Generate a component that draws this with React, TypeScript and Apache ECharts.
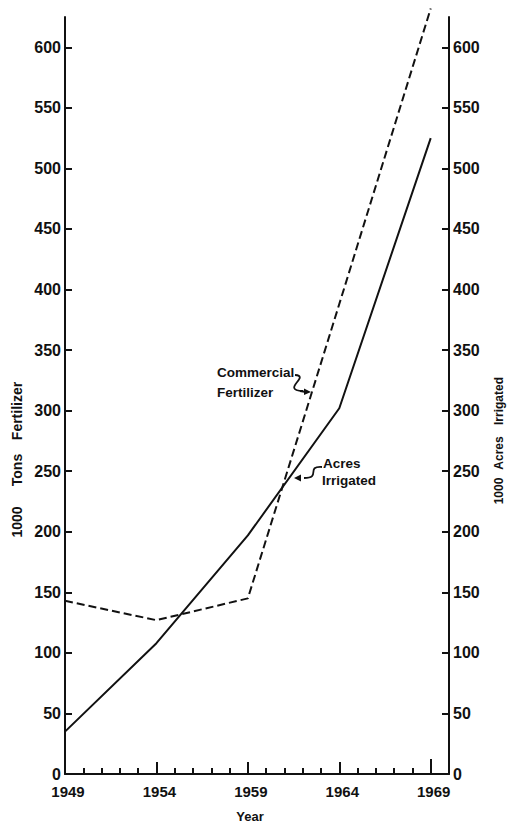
import React, { useEffect, useRef } from "react";
import * as echarts from "echarts";

const years = [1949, 1954, 1959, 1964, 1969];
const acresIrrigated = [35, 108, 197, 302, 525];
const commercialFertilizer = [143, 127, 145, 388, 632];
const yTickValues = [0, 50, 100, 150, 200, 250, 300, 350, 400, 450, 500, 550, 600];
const xMajorTicks = [1949, 1954, 1959, 1964];
const xLastTick = [1969];
const xLabels = [1949, 1954, 1959, 1964, 1969];

const INK = "#111";
const FONT = "'Liberation Sans', Arial, sans-serif";

export default function App() {
  const ref = useRef<HTMLDivElement>(null);
  useEffect(() => {
    if (!ref.current) return;
    const chart = echarts.init(ref.current, null, { renderer: "svg" });
    const yAxisBase = (pos: "left" | "right") => ({
      type: "value",
      position: pos,
      min: 0,
      max: 625,
      interval: 50,
      axisLine: { show: true, lineStyle: { color: INK, width: 2 } },
      axisTick: {
        show: true,
        inside: true,
        length: 7,
        customValues: yTickValues,
        lineStyle: { color: INK, width: 2 },
      },
      axisLabel: {
        show: true,
        customValues: yTickValues,
        color: INK,
        fontFamily: FONT,
        fontWeight: "bold",
        fontSize: 16,
        margin: 4,
      },
      splitLine: { show: false },
    });
    const textStyle = (text: string, size = 14) => ({
      text,
      fill: INK,
      font: `bold ${size}px ${FONT}`,
      textAlign: "center",
      textVerticalAlign: "middle",
    });
    const hiddenX = (ticks: number[] | null, interval: number, length: number) => ({
      type: "value",
      min: 1949,
      max: 1970,
      interval,
      position: "bottom",
      axisLine: { show: false },
      axisTick: {
        show: true,
        inside: true,
        length,
        ...(ticks ? { customValues: ticks } : {}),
        lineStyle: { color: INK, width: 2 },
      },
      axisLabel: { show: false },
      splitLine: { show: false },
    });
    chart.setOption({
      animation: false,
      backgroundColor: "#fff",
      grid: { left: 65, right: 58, top: 17, bottom: 50, containLabel: false },
      xAxis: [
        {
          type: "value",
          min: 1949,
          max: 1970,
          interval: 5,
          position: "bottom",
          axisLine: { show: true, onZero: false, lineStyle: { color: INK, width: 2 } },
          axisTick: {
            show: true,
            inside: true,
            length: 12,
            customValues: xMajorTicks,
            lineStyle: { color: INK, width: 2 },
          },
          axisLabel: {
            show: true,
            customValues: xLabels,
            color: INK,
            fontFamily: FONT,
            fontWeight: "bold",
            fontSize: 15,
            margin: 10,
            padding: [0, 0, 0, 6],
            formatter: (v: number) => String(v),
          },
          splitLine: { show: false },
        },
        hiddenX(null, 1, 6),
        hiddenX(xLastTick, 5, 15),
      ],
      yAxis: [yAxisBase("left"), yAxisBase("right")],
      series: [
        {
          name: "Acres Irrigated",
          type: "line",
          xAxisIndex: 0,
          yAxisIndex: 1,
          data: years.map((y, i) => [y, acresIrrigated[i]]),
          showSymbol: false,
          symbol: "none",
          lineStyle: { color: INK, width: 2 },
          clip: false,
        },
        {
          name: "Commercial Fertilizer",
          type: "line",
          xAxisIndex: 0,
          yAxisIndex: 0,
          data: years.map((y, i) => [y, commercialFertilizer[i]]),
          showSymbol: false,
          symbol: "none",
          lineStyle: { color: INK, width: 2, type: [8, 4] },
          clip: false,
        },
      ],
      graphic: [
        // left axis title
        { type: "text", x: 17, y: 522, rotation: Math.PI / 2, style: textStyle("1000") },
        { type: "text", x: 17, y: 470, rotation: Math.PI / 2, style: textStyle("Tons") },
        { type: "text", x: 17, y: 411, rotation: Math.PI / 2, style: textStyle("Fertilizer") },
        // right axis title
        { type: "text", x: 499, y: 491, rotation: Math.PI / 2, style: textStyle("1000", 12) },
        { type: "text", x: 499, y: 453, rotation: Math.PI / 2, style: textStyle("Acres", 12) },
        { type: "text", x: 499, y: 401, rotation: Math.PI / 2, style: textStyle("Irrigated", 12) },
        // x axis title
        { type: "text", x: 250, y: 816, style: textStyle("Year", 13) },
        // annotation: Commercial Fertilizer
        {
          type: "text",
          x: 217,
          y: 372,
          style: { ...textStyle("Commercial", 13.5), textAlign: "left" },
        },
        {
          type: "text",
          x: 217,
          y: 392,
          style: { ...textStyle("Fertilizer", 13.5), textAlign: "left" },
        },
        {
          type: "bezierCurve",
          shape: { x1: 295, y1: 375, x2: 303, y2: 391, cpx1: 311, cpy1: 376, cpx2: 280, cpy2: 390 },
          style: { stroke: INK, lineWidth: 1.8, fill: "none" },
        },
        {
          type: "line",
          shape: { x1: 300, y1: 391, x2: 306, y2: 392 },
          style: { stroke: INK, lineWidth: 1.8 },
        },
        {
          type: "polygon",
          shape: { points: [[311, 392], [304, 388.5], [304, 395]] },
          style: { fill: INK },
        },
        // annotation: Acres Irrigated
        {
          type: "text",
          x: 323,
          y: 463,
          style: { ...textStyle("Acres", 13.5), textAlign: "left" },
        },
        {
          type: "text",
          x: 322,
          y: 480,
          style: { ...textStyle("Irrigated", 13.5), textAlign: "left" },
        },
        {
          type: "bezierCurve",
          shape: { x1: 322, y1: 467, x2: 304, y2: 478, cpx1: 305, cpy1: 466, cpx2: 322, cpy2: 478 },
          style: { stroke: INK, lineWidth: 1.8, fill: "none" },
        },
        {
          type: "polygon",
          shape: { points: [[294, 478], [301, 474.5], [301, 481.5]] },
          style: { fill: INK },
        },
      ],
    });
    return () => chart.dispose();
  }, []);
  return (
    <div
      ref={ref}
      style={{ position: "fixed", left: 0, top: 0, width: 507, height: 824, background: "#fff" }}
    />
  );
}
